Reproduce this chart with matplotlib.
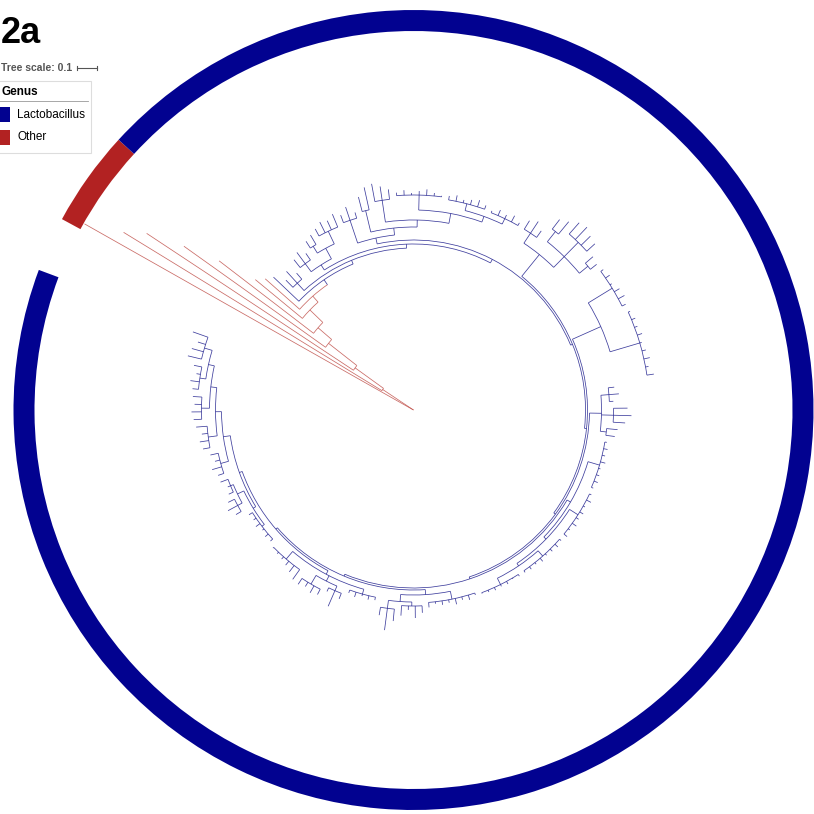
import matplotlib
matplotlib.use('Agg')
import matplotlib.pyplot as plt
import numpy as np
from matplotlib.collections import LineCollection
from matplotlib.patches import Arc, Wedge, Rectangle

# ---------- data ---------- branch lengths (tree units)
# red "Other" leaves hanging off the root ladder, outermost first
red_tips = [1.89, 1.515, 1.24, 0.87, 0.595, 0.305, 0.23]
# red ladder nodes between the root and the Lactobacillus clade
red_spine = [0.185, 0.175, 0.18, 0.09, 0.09, 0.04]

# Lactobacillus backbone (stem of the clade, then each ladder node)
blue_spine = [0.03, 0.02, 0.02, 0.02, 0.01, 0.01, 0.01, 0.01, 0.01, 0.01, 0.015]

# sub-clades hanging off the backbone, clockwise from upper left
g1a = ":0.175"
g1b = "(:0.05,:0.08,:0.04):0.05"
g1c = "((:0.05,:0.07,:0.04):0.05,((:0.04,:0.055):0.04,(:0.04,:0.06,:0.05,:0.07):0.07):0.06):0.03"
g2 = ("((:0.04,:0.07,:0.03):0.12,((:0.075,:0.115):0.11,((:0.09,:0.07,:0.05):0.11,"
      "((:0.015,:0.025,:0.01,:0.02,:0.03,:0.015,:0.005):0.075,"
      "((:0.02,:0.03,:0.015,:0.025,:0.035,:0.02):0.035,"
      "(:0.01,:0.03,:0.02,:0.035,:0.015):0.03):0.03):0.05):0.035):0.035):0.03")
g3 = "((:0.05,:0.07,:0.04):0.06,((:0.06,:0.08):0.065,(:0.075,:0.085,:0.065,:0.055):0.1,(:0.05,:0.04):0.055):0.075):0.14"
g4 = ("((:0.015,:0.025,:0.01,:0.03,:0.035,:0.02):0.14,"
      "(:0.01,:0.02,:0.015,:0.025,:0.01,:0.02,:0.03,:0.015,:0.035):0.155):0.155")
g5 = "((:0.03,:0.05,:0.02):0.04,(:0.07,:0.09,:0.06):0.06,(:0.055,:0.045):0.03):0.06"
g6 = ("((:0.01,:0.02,:0.015,:0.025,:0.01,:0.015,:0.02,:0.01):0.06,"
      "((:0.01,:0.025,:0.01,:0.02,:0.015,:0.025,:0.01,:0.02):0.05,"
      "((:0.01,:0.02,:0.015,:0.01,:0.02,:0.01,:0.015,:0.01):0.035,"
      "(:0.01,:0.005,:0.015,:0.01,:0.015,:0.01,:0.005):0.035):0.015):0.015):0.02")
g7 = ("((:0.01,:0.025,:0.015,:0.03,:0.015,:0.02,:0.01,:0.025):0.04,"
      "((:0.035,:0.06,:0.02,:0.05):0.02,(:0.06,:0.11,:0.04):0.04):0.035):0.025")
g8 = ("((:0.015,:0.02,:0.01,:0.025,:0.015):0.025,((:0.03,:0.085,:0.02):0.025,"
      "(:0.03,:0.04,:0.025,:0.035):0.05):0.03,(:0.06,:0.04,:0.025,:0.015,:0.01,:0.005):0.05):0.02")
g9 = ("((:0.015,:0.02,:0.01,:0.025,:0.015,:0.02):0.015,((:0.03,:0.055,:0.035):0.025,"
      "(:0.025,:0.015,:0.04):0.015):0.035):0.015")
g10 = ("((:0.03,:0.05,:0.025,:0.04):0.04,((:0.035,:0.045,:0.03,:0.055):0.045,"
       "((:0.04,:0.05,:0.035,:0.045):0.04,((:0.03,:0.045,:0.02,:0.04):0.03,"
       "(:0.07,:0.06,:0.04,:0.08):0.04):0.03):0.03):0.03):0.035")
blue_parts = [g1a, g1b, g1c, g2, g3, g4, g5, g6, g7, g8, g9, g10]

genus_names = ['Lactobacillus', 'Other']
genus_colors = ['#020290', '#b22222']
branch_colors = ['#1c1c8c', '#c0504a']

# ---------- layout settings ----------
PX = 200.0            # pixels per tree unit (0.1 -> 20 px)
CX, CY = 413.5, 404   # tree centre, y measured from the bottom
START = 150.5         # angle of the first leaf, degrees
SPAN = 350.0          # leaves run clockwise over this arc
RING_OUT = 400
RING_W = 21


# ---------- private use function ---------- NEWICK
def parse(s, i=0):
    node = {'kids': [], 'len': 0.0}
    if s[i] == '(':
        i += 1
        while True:
            kid, i = parse(s, i)
            node['kids'].append(kid)
            if s[i] == ',':
                i += 1
            else:
                i += 1  # ')'
                break
    if i < len(s) and s[i] == ':':
        j = i + 1
        while j < len(s) and s[j] not in ',)':
            j += 1
        node['len'] = float(s[i + 1:j])
        i = j
    return node, i


def set_genus(node, g):
    node['genus'] = g
    for k in node['kids']:
        set_genus(k, g)


def build_tree():
    parts = []
    for p in blue_parts:
        parts.append(parse(p)[0])
    node = {'len': blue_spine[-1], 'kids': [parts[-2], parts[-1]]}
    for k in range(len(blue_spine) - 2, -1, -1):
        node = {'len': blue_spine[k], 'kids': [parts[k], node]}
    set_genus(node, 0)
    for k in range(len(red_spine) - 1, -1, -1):
        leaf = {'len': red_tips[k + 1], 'kids': [], 'genus': 1}
        node = {'len': red_spine[k], 'kids': [leaf, node], 'genus': 1}
    leaf = {'len': red_tips[0], 'kids': [], 'genus': 1}
    return {'len': 0.0, 'kids': [leaf, node], 'genus': 1}
# ---------------------- END -------------------------


# ---------- private use function ---------- LAYOUT
leaves = []

def count_leaves(node):
    if not node['kids']:
        return 1
    return sum(count_leaves(k) for k in node['kids'])


def layout(node, r0, step):
    node['r'] = r0 + node['len'] * PX
    node['r0'] = r0
    if not node['kids']:
        node['a'] = START - step * len(leaves)
        leaves.append(node)
        return
    for k in node['kids']:
        layout(k, node['r'], step)
    node['a'] = (node['kids'][0]['a'] + node['kids'][-1]['a']) / 2.0


def collect(node, segs, arcs):
    c = node['genus']
    if node['r'] > node['r0']:
        a = np.radians(node['a'])
        segs[c].append([(CX + node['r0'] * np.cos(a), CY + node['r0'] * np.sin(a)),
                        (CX + node['r'] * np.cos(a), CY + node['r'] * np.sin(a))])
    if node['kids']:
        a1 = node['kids'][-1]['a']
        a2 = node['kids'][0]['a']
        if node['r'] > 0:
            arcs.append((node['r'], a1, a2, c))
        for k in node['kids']:
            collect(k, segs, arcs)
# ---------------------- END -------------------------


tree = build_tree()
n = count_leaves(tree)
step = SPAN / (n - 1)
layout(tree, 0.0, step)

fig = plt.figure(figsize=(8.14, 8.14), dpi=100)
ax = fig.add_axes([0, 0, 1, 1])
ax.set_xlim(0, 814)
ax.set_ylim(0, 814)
ax.set_aspect('equal')
ax.axis('off')

# ---------- tree ----------
segs = [[], []]
arcs = []
collect(tree, segs, arcs)
for c in range(2):
    ax.add_collection(LineCollection(segs[c], colors=branch_colors[c], linewidths=0.55, alpha=0.85))
for r, a1, a2, c in arcs:
    ax.add_patch(Arc((CX, CY), 2 * r, 2 * r, theta1=a1, theta2=a2,
                     color=branch_colors[c], lw=0.55, alpha=0.85))

# ---------- colour strip ----------
runs = []
for lf in leaves:
    if runs and runs[-1][0] == lf['genus']:
        runs[-1][2] = lf['a']
    else:
        runs.append([lf['genus'], lf['a'], lf['a']])
for g, first, last in runs:
    ax.add_patch(Wedge((CX, CY), RING_OUT, last - step / 2, first + step / 2,
                       width=RING_W, facecolor=genus_colors[g], edgecolor='none'))

# ---------- labels ----------
H = 814
ax.text(1, H - 43, '2a', fontsize=26, fontweight='bold', family='Liberation Sans',
        va='baseline', ha='left')
ax.text(1, H - 71, 'Tree scale: 0.1', fontsize=7.5, fontweight='bold', color='#555555',
        family='Liberation Sans', va='baseline', ha='left')
x0 = 77
ax.plot([x0, x0 + 0.1 * PX], [H - 68, H - 68], color='#555555', lw=0.8)
ax.plot([x0, x0], [H - 66, H - 70], color='#555555', lw=0.8)
ax.plot([x0 + 0.1 * PX, x0 + 0.1 * PX], [H - 66, H - 70], color='#555555', lw=0.8)

ax.add_patch(Rectangle((-5, H - 153), 96, 72, facecolor='white', edgecolor='#dddddd', lw=0.8))
ax.text(1, H - 95, 'Genus', fontsize=8.5, fontweight='bold', family='Liberation Sans',
        va='baseline', ha='left')
ax.plot([-5, 88], [H - 101, H - 101], color='#999999', lw=0.6)
for i in range(len(genus_names)):
    top = 107 + i * 23
    ax.add_patch(Rectangle((-5, H - top - 15), 15, 15, facecolor=genus_colors[i], edgecolor='none'))
    ax.text(17, H - top - 7.5, genus_names[i], fontsize=8.5, family='Liberation Sans',
            va='center', ha='left')

fig.savefig('out.png', dpi=100)
